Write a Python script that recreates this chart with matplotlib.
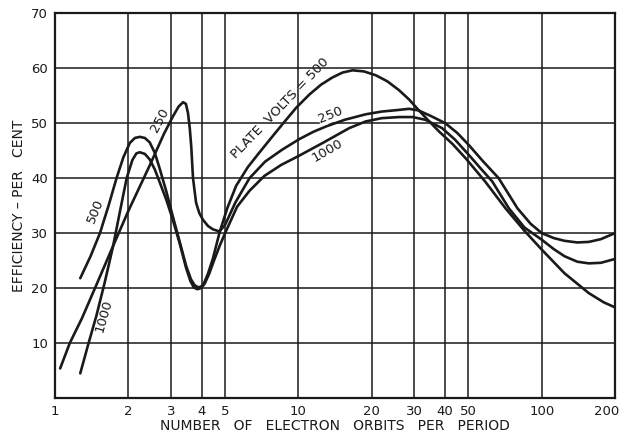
import numpy as np
import matplotlib
matplotlib.use("Agg")
import matplotlib.pyplot as plt
import matplotlib.transforms as mtransforms

# efficiency curves (orbits per period, per cent)
x_500 = [1.27, 1.40, 1.53, 1.66, 1.79, 1.91, 2.03, 2.13, 2.23, 2.34, 2.45, 2.57, 2.69, 2.87,
         3.05, 3.25, 3.46, 3.62, 3.75, 3.90, 4.06, 4.25, 4.45, 4.75, 5.10, 5.55, 6.2, 6.9,
         7.7, 8.6, 9.8, 11.1, 12.4, 13.8, 15.2, 16.7, 18.6, 20.8, 23.2, 25.9, 28.5, 31.0,
         34.0, 37.8, 43.0, 48.7, 58.5, 71.0, 85.0, 100, 124, 156, 180, 200]
y_500 = [21.8, 25.8, 30.0, 35.0, 40.0, 43.8, 46.4, 47.3, 47.5, 47.3, 46.5, 44.6, 41.8, 37.5,
         33.0, 28.5, 24.0, 21.6, 20.5, 20.1, 20.5, 22.6, 25.3, 30.2, 34.5, 38.6, 42.0, 44.6,
         47.2, 49.8, 52.8, 55.2, 57.0, 58.3, 59.2, 59.6, 59.4, 58.7, 57.6, 56.0, 54.3, 52.5,
         50.6, 48.5, 46.2, 43.6, 39.4, 34.5, 30.4, 27.0, 22.7, 19.1, 17.4, 16.5]

x_250 = [1.05, 1.15, 1.29, 1.46, 1.73, 2.00, 2.45, 2.80, 3.05, 3.22, 3.36, 3.45, 3.52, 3.58,
         3.63, 3.69, 3.80, 3.92, 4.06, 4.25, 4.45, 4.74, 5.00, 5.50, 6.3, 7.3, 8.6, 10.1,
         11.5, 13.0, 15.5, 18.9, 22.0, 25.9, 28.5, 31.2, 35.0, 40.1, 45.0, 50.2, 57.0, 66.5,
         79.5, 90.0, 100, 112, 124, 140, 156, 175, 200]
y_250 = [5.4, 10.0, 14.5, 20.0, 27.6, 34.0, 42.3, 48.0, 51.2, 53.0, 53.8, 53.5, 51.8, 49.0,
         45.7, 40.0, 35.5, 33.6, 32.4, 31.3, 30.7, 30.3, 31.5, 35.5, 40.0, 43.0, 45.2, 47.1,
         48.4, 49.4, 50.6, 51.6, 52.1, 52.4, 52.6, 52.3, 51.3, 50.0, 48.2, 46.0, 43.2, 40.0,
         34.5, 31.7, 30.0, 29.1, 28.6, 28.3, 28.4, 28.9, 30.0]

x_1000 = [1.27, 1.37, 1.48, 1.60, 1.73, 1.85, 1.97, 2.08, 2.16, 2.23, 2.34, 2.45, 2.57, 2.69,
          2.87, 3.05, 3.25, 3.46, 3.60, 3.72, 3.85, 3.98, 4.12, 4.30, 4.50, 4.75, 5.00, 5.60,
          6.3, 7.25, 8.5, 10.0, 12.6, 16.2, 18.9, 22.0, 25.9, 29.5, 33.3, 38.9, 44.0, 50.2,
          56.0, 62.6, 73.3, 85.0, 100, 112, 124, 140, 156, 175, 200]
y_1000 = [4.5, 9.8, 15.0, 21.0, 27.5, 34.0, 40.0, 43.3, 44.5, 44.7, 44.4, 43.4, 41.6, 39.3,
          36.0, 32.4, 28.2, 23.6, 21.3, 20.1, 19.8, 20.0, 20.8, 22.6, 25.0, 27.7, 30.0, 34.8,
          37.7, 40.4, 42.4, 44.0, 46.4, 49.1, 50.3, 50.9, 51.1, 51.1, 50.6, 49.1, 47.0, 44.2,
          41.8, 39.4, 34.5, 31.0, 28.8, 27.1, 25.8, 24.8, 24.5, 24.6, 25.3]

x_ticks = [1, 2, 3, 4, 5, 10, 20, 30, 40, 50, 100, 200]
y_ticks = [10, 20, 30, 40, 50, 60, 70]

fig = plt.figure(figsize=(6.25, 4.37), dpi=100)
ax = fig.add_axes([0.088, 0.089, 0.896, 0.881])

ink = "#1a1a1a"
for xv in x_ticks:
    ax.axvline(xv, color=ink, lw=1.1, zorder=1)
for yv in y_ticks:
    ax.axhline(yv, color=ink, lw=1.1, zorder=1)

for xs, ys in [(x_500, y_500), (x_250, y_250), (x_1000, y_1000)]:
    ax.plot(xs, ys, color=ink, lw=1.9, solid_capstyle="round", solid_joinstyle="round", zorder=3)

ax.set_xscale("log")
ax.set_xlim(1, 200)
ax.set_ylim(0, 70)
ax.set_xticks(x_ticks)
ax.set_xticklabels([str(v) for v in x_ticks])
ax.minorticks_off()
ax.set_yticks(y_ticks)
ax.tick_params(length=0, labelsize=9.5, colors=ink, pad=5)
for s in ax.spines.values():
    s.set_linewidth(1.6)
    s.set_color(ink)

# last x label sits at the figure edge, nudge it in a little
last = ax.get_xticklabels()[-1]
last.set_transform(last.get_transform() + mtransforms.ScaledTranslation(-6 / 72, 0, fig.dpi_scale_trans))

lab = dict(color=ink, fontsize=9.5, ha="center", va="center", zorder=4)
ax.text(1.47, 34.0, "500", rotation=68, **lab)
ax.text(1.58, 15.0, "1000", rotation=74, **lab)
ax.text(2.70, 50.5, "250", rotation=62, **lab)
ax.text(8.4, 52.7, "PLATE  VOLTS = 500", rotation=46, **lab)
ax.text(13.6, 51.4, "250", rotation=22,
        bbox=dict(facecolor="white", edgecolor="none", pad=0.3), **lab)
ax.text(13.2, 45.0, "1000", rotation=30, **lab)

ax.set_xlabel("NUMBER   OF   ELECTRON   ORBITS   PER   PERIOD", fontsize=10, color=ink, labelpad=1)
ax.set_ylabel("EFFICIENCY – PER   CENT", fontsize=10, color=ink, labelpad=4)

fig.savefig("out.png", dpi=100, facecolor="white")
